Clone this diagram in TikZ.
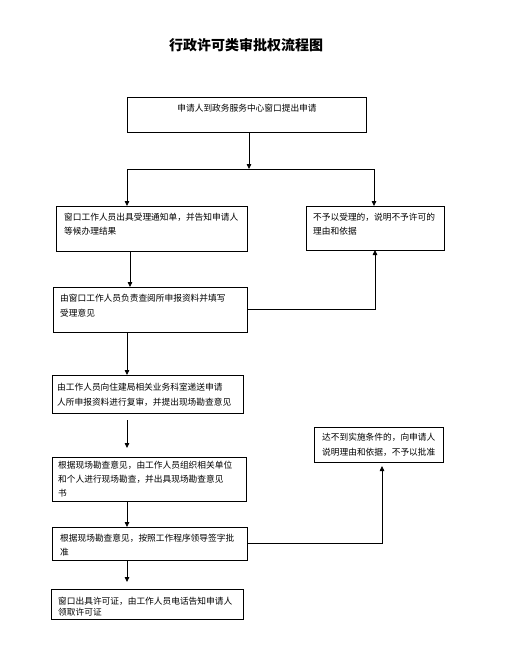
\documentclass[tikz,border=0pt]{standalone}
\usepackage{fontspec}
\setmainfont{Noto Sans CJK SC}
\usetikzlibrary{arrows.meta}
\begin{document}
\begin{tikzpicture}[x=1pt,y=-1pt,
  box/.style={draw, line width=0.8pt, inner sep=0pt, outer sep=0pt},
  txt/.style={inner sep=0pt, align=left, anchor=north west, font=\fontsize{8.7}{14}\selectfont},
  arr/.style={line width=0.8pt, -{Triangle[length=5pt,width=4.5pt]}},
  ln/.style={line width=0.8pt}]
\useasboundingbox[fill=white] (0,0) rectangle (509,672);
\node[font=\fontsize{14}{16}\selectfont\bfseries] (title) at (246,45) {行政许可类审批权流程图};

\node[box, minimum width=239pt, minimum height=35pt] (b1) at (246.5,114.5) {};
\node[inner sep=0pt, font=\fontsize{8.7}{14}\selectfont] (t1) at (247,108) {申请人到政务服务中心窗口提出申请};

\node[box, minimum width=191pt, minimum height=45pt] (b2) at (151.5,228.5) {};
\node[txt] (t2) at ([shift={(8,6.5)}]b2.north west) {窗口工作人员出具受理通知单，并告知申请人\\等候办理结果};

\node[box, minimum width=138pt, minimum height=44pt] (b3) at (375,228) {};
\node[txt] (t3) at ([shift={(7,6.5)}]b3.north west) {不予以受理的，说明不予许可的\\理由和依据};

\node[box, minimum width=194pt, minimum height=45pt] (b4) at (150,309.5) {};
\node[txt, font=\fontsize{8.7}{15}\selectfont] (t4) at ([shift={(7,6.5)}]b4.north west) {由窗口工作人员负责查阅所申报资料并填写\\受理意见};

\node[box, minimum width=191pt, minimum height=38pt] (b5) at (147.5,394) {};
\node[txt, font=\fontsize{8.7}{15}\selectfont] (t5) at ([shift={(5,7.5)}]b5.north west) {由工作人员向住建局相关业务科室递送申请\\人所申报资料进行复审，并提出现场勘查意见};

\node[box, minimum width=194pt, minimum height=44pt] (b6) at (149,479) {};
\node[txt] (t6) at ([shift={(6,3.5)}]b6.north west) {根据现场勘查意见，由工作人员组织相关单位\\和个人进行现场勘查，并出具现场勘查意见\\书};

\node[box, minimum width=129pt, minimum height=35pt] (b7) at (378.5,444.5) {};
\node[txt, font=\fontsize{8.7}{15}\selectfont] (t7) at ([shift={(8,5.5)}]b7.north west) {达不到实施条件的，向申请人\\说明理由和依据，不予以批准};

\node[box, minimum width=195pt, minimum height=33pt] (b8) at (149.5,543.5) {};
\node[txt] (t8) at ([shift={(8,6.5)}]b8.north west) {根据现场勘查意见，按照工作程序领导签字批\\准};

\node[box, minimum width=192pt, minimum height=30pt] (b9) at (147,604) {};
\node[txt, font=\fontsize{8.7}{11.5}\selectfont] (t9) at ([shift={(7,7.5)}]b9.north west) {窗口出具许可证，由工作人员电话告知申请人\\领取许可证};

\coordinate (j1) at (249,169);
\coordinate (jl) at (127,169);
\coordinate (jr) at (374,169);
\coordinate (c130) at (130,0);
\coordinate (c127) at (127,0);
\coordinate (c382) at (382,0);

\draw[arr] (b1.south -| j1) -- (j1);
\draw[ln] (jl) -- (jr);
\draw[arr] (jl) -- (jl |- b2.north);
\draw[arr] (jr) -- (jr |- b3.north);
\draw[arr] (b2.south -| c130) -- (b4.north -| c130);
\draw[arr] (b4.east) -| (b3.south);
\draw[arr] (b4.south -| c127) -- (b5.north -| c127);
\draw[arr, shorten <=7pt, shorten >=9pt] (b5.south -| c127) -- (b6.north -| c127);
\draw[arr] (b6.south -| c127) -- (b8.north -| c127);
\draw[arr, shorten >=4pt] (b8.east) -| (b7.south -| c382);
\draw[arr, shorten >=7pt] (b8.south -| c127) -- (b9.north -| c127);
\end{tikzpicture}
\end{document}
